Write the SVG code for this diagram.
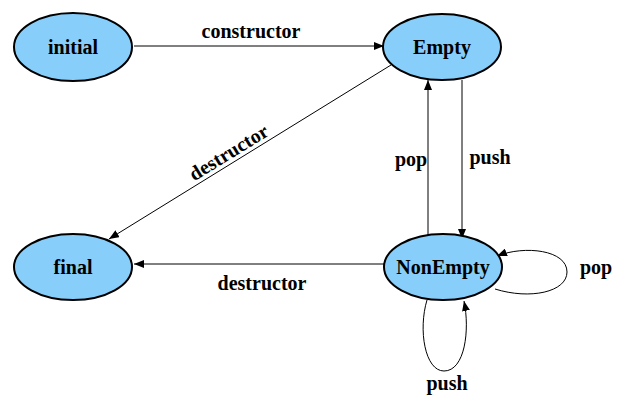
<svg xmlns="http://www.w3.org/2000/svg" width="628" height="402" viewBox="0 0 628 402">
<style>
.node ellipse{fill:#87cefa;stroke:#000;stroke-width:2}
text{font-family:"Liberation Serif","Times New Roman",serif;font-weight:bold;font-size:20px;fill:#000}
.nl{text-anchor:middle}
.edges path{fill:none;stroke:#000;stroke-width:1}
</style>
<defs>
<marker id="ah" viewBox="0 0 10 8" refX="10" refY="4" markerWidth="10" markerHeight="8" markerUnits="userSpaceOnUse" orient="auto">
<path d="M0,0 L10,4 L0,8 Z" fill="#000"/>
</marker>
</defs>
<g class="edges">
<path d="M134,46 L384,46" marker-end="url(#ah)"/>
<path d="M391,65 L109,239" marker-end="url(#ah)"/>
<path d="M428,236 L428,80" marker-end="url(#ah)"/>
<path d="M462,80 L462,239" marker-end="url(#ah)"/>
<path d="M384,264 L134,264" marker-end="url(#ah)"/>
<path d="M495,289 C530,300 567,292 567,272 C567,250 525,245 497,256" marker-end="url(#ah)"/>
<path d="M427,300 C418,330 425,371 444,371 C465,371 470,330 464,301" marker-end="url(#ah)"/>
<text class="nl" x="251" y="38">constructor</text>
<text class="nl" transform="translate(229,153) rotate(-31.7)" x="0" y="6">destructor</text>
<text class="nl" x="411" y="166">pop</text>
<text class="nl" x="490" y="164">push</text>
<text class="nl" x="262" y="290">destructor</text>
<text class="nl" x="596" y="274">pop</text>
<text class="nl" x="447" y="390">push</text>
</g>
<g id="initial" class="node"><ellipse cx="73" cy="47" rx="59" ry="34"/><text class="nl" x="73" y="54">initial</text></g>
<g id="Empty" class="node"><ellipse cx="442" cy="47" rx="59" ry="33"/><text class="nl" x="442" y="54">Empty</text></g>
<g id="final" class="node"><ellipse cx="73" cy="267" rx="59" ry="33"/><text class="nl" x="73" y="274">final</text></g>
<g id="NonEmpty" class="node"><ellipse cx="443" cy="267" rx="59" ry="33"/><text class="nl" x="443" y="274">NonEmpty</text></g>
</svg>
